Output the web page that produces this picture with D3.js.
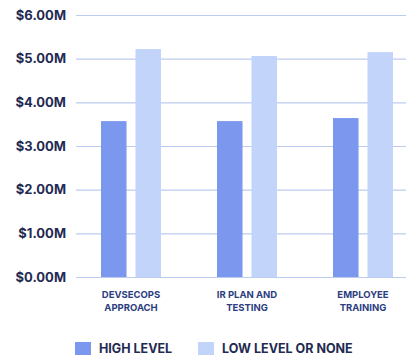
<!DOCTYPE html>
<html>
<head>
<meta charset="utf-8">
<script src="https://cdn.jsdelivr.net/npm/d3@7"></script>
<style>
  body { margin: 0; background: #fff; }
  text { font-family: Inter, "Noto Sans", sans-serif; }
</style>
</head>
<body>
<div id="chart"></div>
<script>
var categories = [["DEVSECOPS", "APPROACH"], ["IR PLAN AND", "TESTING"], ["EMPLOYEE", "TRAINING"]];
var seriesNames = ["HIGH LEVEL", "LOW LEVEL OR NONE"];
var highLevel = [3.57, 3.57, 3.64];
var lowLevel = [5.22, 5.06, 5.15];
var tickValues = [0, 1, 2, 3, 4, 5, 6];

var width = 406, height = 355;
var colors = ["#7b98ee", "#c3d4fb"];
var textColor = "#1f2b52";

var svg = d3.select("#chart").append("svg")
    .attr("width", width)
    .attr("height", height);

var y = d3.scaleLinear().domain([0, 6]).range([277, 15]);
var x0 = d3.scaleBand().domain(d3.range(categories.length)).range([73, 421]).padding(0);
var x1 = d3.scaleBand().domain([0, 1]).range([0, 60]).paddingInner(0.26);

// gridlines + tick labels
var yAxis = d3.axisLeft(y)
    .tickValues(tickValues)
    .tickSize(-(width - 76))
    .tickFormat(function(d){ return "$" + d.toFixed(2) + "M"; });

var gy = svg.append("g")
    .attr("transform", "translate(76,0)")
    .call(yAxis);
gy.select(".domain").remove();
gy.selectAll(".tick line").attr("stroke", "#bccbf0").attr("stroke-width", 1.2);
gy.selectAll(".tick text")
    .attr("x", -10)
    .attr("fill", textColor)
    .style("font-size", "13px")
    .style("font-weight", 700);

var data = categories.map(function(c, i){ return [highLevel[i], lowLevel[i]]; });

var groups = svg.selectAll(".grp").data(data).enter().append("g")
    .attr("transform", function(d, i){ return "translate(" + (x0(i) + x0.bandwidth() / 2 - 30) + ",0)"; });

groups.selectAll("rect").data(function(d){ return d; }).enter().append("rect")
    .attr("x", function(d, j){ return x1(j); })
    .attr("width", x1.bandwidth())
    .attr("y", function(d){ return y(d); })
    .attr("height", function(d){ return y(0) - y(d); })
    .attr("fill", function(d, j){ return colors[j]; });

// category labels
var labels = svg.selectAll(".cat").data(categories).enter().append("text")
    .attr("text-anchor", "middle")
    .attr("fill", "#2c3d80")
    .style("font-size", "9.5px")
    .style("font-weight", 700)
    .attr("transform", function(d, i){ return "translate(" + (x0(i) + x0.bandwidth() / 2) + ",298)"; });
labels.selectAll("tspan").data(function(d){ return d; }).enter().append("tspan")
    .attr("x", 0)
    .attr("dy", function(d, j){ return j === 0 ? 0 : 12.5; })
    .text(function(d){ return d; });

// legend
var legendX = [75, 198];
var legend = svg.selectAll(".leg").data(seriesNames).enter().append("g")
    .attr("transform", function(d, i){ return "translate(" + legendX[i] + ",342)"; });
legend.append("rect")
    .attr("width", 16)
    .attr("height", 14)
    .attr("fill", function(d, i){ return colors[i]; });
legend.append("text")
    .attr("x", 24)
    .attr("y", 7)
    .attr("dy", "0.35em")
    .attr("fill", textColor)
    .style("font-size", "12.5px")
    .style("font-weight", 700)
    .text(function(d){ return d; });
</script>
</body>
</html>
